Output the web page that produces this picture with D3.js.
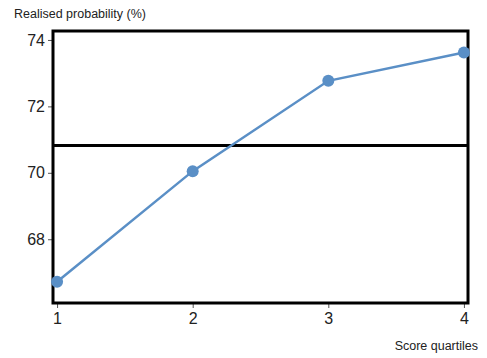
<!DOCTYPE html>
<html><head><meta charset="utf-8">
<script src="https://cdn.jsdelivr.net/npm/d3@7"></script>
<style>body{margin:0;background:#fff;}svg{display:block;font-family:"Liberation Sans",Arial,sans-serif;}</style>
</head><body>
<svg id="c" width="487" height="358"></svg>
<script>
const quartiles = [1, 2, 3, 4];
const probability = [66.72, 70.05, 72.77, 73.62];
const yTicks = [68, 70, 72, 74];
const xTicks = [1, 2, 3, 4];
const referenceLevel = 70.82;

const svg = d3.select("#c");
const L = 53, R = 468, T = 31, B = 303;
const x = d3.scaleLinear().domain([0.97, 4.03]).range([L, R]);
const y = d3.scaleLinear().domain([66.08, 74.27]).range([B, T]);
const col = "#5a8fc6";

// axes
const ya = svg.append("g").attr("transform", `translate(${L},0)`)
  .call(d3.axisLeft(y).tickValues(yTicks).tickSize(5).tickPadding(3));
ya.select(".domain").remove();
ya.selectAll(".tick line").attr("stroke", "#555");
ya.selectAll(".tick text").attr("font-size", 16).attr("fill", "#222").attr("font-family", "Liberation Sans, Arial, sans-serif");

const xa = svg.append("g").attr("transform", `translate(0,${B})`)
  .call(d3.axisBottom(x).tickValues(xTicks).tickSize(5).tickPadding(5).tickFormat(d3.format("d")));
xa.select(".domain").remove();
xa.selectAll(".tick line").attr("stroke", "#555");
xa.selectAll(".tick text").attr("font-size", 16).attr("fill", "#222").attr("font-family", "Liberation Sans, Arial, sans-serif");

// frame
svg.append("rect").attr("x", L).attr("y", T).attr("width", R - L).attr("height", B - T)
  .attr("fill", "none").attr("stroke", "#000").attr("stroke-width", 3);

// reference line
svg.append("line").attr("x1", L).attr("x2", R).attr("y1", y(referenceLevel)).attr("y2", y(referenceLevel))
  .attr("stroke", "#000").attr("stroke-width", 3);

// series
const data = quartiles.map((q, i) => ({q, v: probability[i]}));
svg.append("path").datum(data)
  .attr("d", d3.line().x(d => x(d.q)).y(d => y(d.v)))
  .attr("fill", "none").attr("stroke", col).attr("stroke-width", 2.5);
svg.selectAll("circle.p").data(data).enter().append("circle")
  .attr("cx", d => x(d.q)).attr("cy", d => y(d.v)).attr("r", 6).attr("fill", col);

// titles
svg.append("text").attr("x", 14).attr("y", 18).attr("font-size", 12.5).attr("fill", "#222")
  .text("Realised probability (%)");
svg.append("text").attr("x", 478).attr("y", 350).attr("text-anchor", "end").attr("font-size", 12.5).attr("fill", "#222")
  .text("Score quartiles");
</script>
</body></html>
